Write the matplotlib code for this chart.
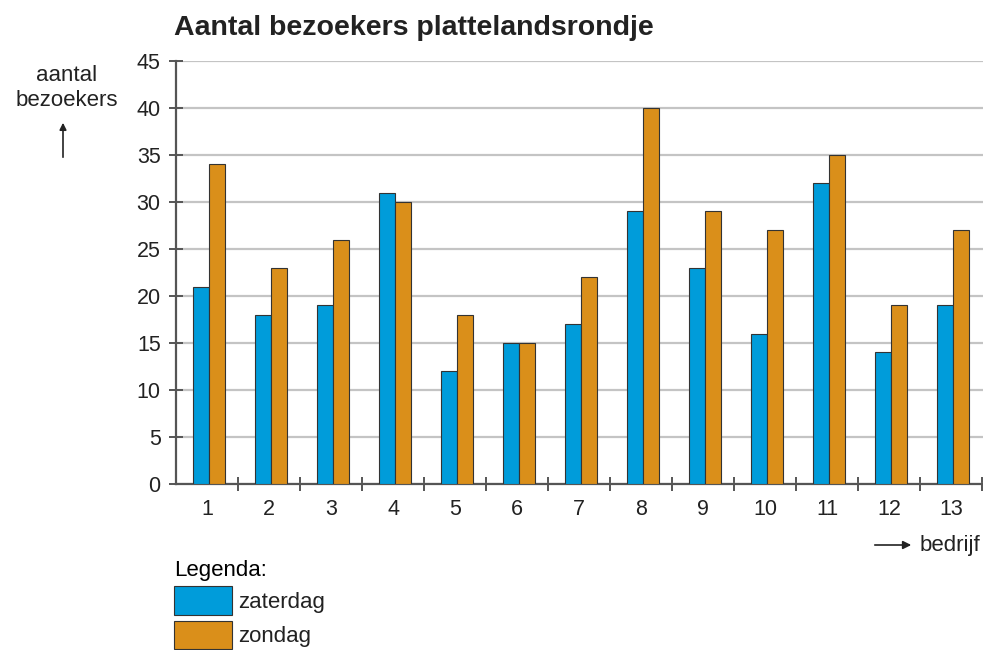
import matplotlib.pyplot as plt
import numpy as np

plt.rcParams['font.family'] = ['Liberation Sans', 'DejaVu Sans']

bedrijven = [str(i) for i in range(1, 14)]
zaterdag = [21, 18, 19, 31, 12, 15, 17, 29, 23, 16, 32, 14, 19]
zondag = [34, 23, 26, 30, 18, 15, 22, 40, 29, 27, 35, 19, 27]
yticks = list(range(0, 50, 5))

BLUE = '#009cda'
ORANGE = '#da8f1a'
EDGE = '#333333'
TXT = '#222222'
W, H = 983, 650


def fx(px):
    return px / W


def fy(py):
    return 1 - py / H


fig = plt.figure(figsize=(9.83, 6.5), dpi=100)
ax = fig.add_axes([fx(176), fy(484), 1 - fx(176), fy(61) - fy(484)])

x = np.arange(1, len(bedrijven) + 1)
bw = 0.255
b1 = ax.bar(x - bw / 2 + 0.03, zaterdag, bw, color=BLUE, edgecolor=EDGE, linewidth=0.8,
            label='zaterdag', zorder=3)
b2 = ax.bar(x + bw / 2 + 0.03, zondag, bw, color=ORANGE, edgecolor=EDGE, linewidth=0.8,
            label='zondag', zorder=3)

ax.set_ylim(0, 45)
ax.set_xlim(0.5, 0.5 + (W - 176) / 62)
ax.set_yticks(yticks)
ax.set_xticks(x)
ax.set_xticklabels(bedrijven)
ax.set_xticks(x + 0.5, minor=True)

ax.grid(axis='y', color='#c4c4c4', linewidth=1.6, zorder=0)
for s in ['top', 'right']:
    ax.spines[s].set_visible(False)
for s in ['left', 'bottom']:
    ax.spines[s].set_color('#555555')
    ax.spines[s].set_linewidth(1.6)

ax.tick_params(axis='y', direction='inout', length=10, width=1.4, color='#555555',
               labelsize=15.5, pad=6, labelcolor=TXT)
ax.tick_params(axis='x', which='major', length=0, labelsize=15.5, pad=11, labelcolor=TXT)
ax.tick_params(axis='x', which='minor', direction='inout', length=10, width=1.4,
               color='#555555')

fig.text(fx(174), fy(28), 'Aantal bezoekers plattelandsrondje', fontsize=20.5,
         fontweight='bold', color=TXT, va='center', ha='left')

fig.text(fx(67), fy(88), 'aantal\nbezoekers', fontsize=16, color=TXT,
         ha='center', va='center', linespacing=1.2)
ax.annotate('', xy=(fx(63), fy(120)), xytext=(fx(63), fy(160)), xycoords='figure fraction',
            arrowprops=dict(arrowstyle='-|>', color=TXT, lw=1.2, mutation_scale=10))

ax.annotate('', xy=(fx(914), fy(545)), xytext=(fx(872), fy(545)), xycoords='figure fraction',
            arrowprops=dict(arrowstyle='-|>', color=TXT, lw=1.2, mutation_scale=12))
fig.text(fx(920), fy(545), 'bedrijf', fontsize=16, color=TXT, ha='left', va='center')

fig.legend(handles=[b1, b2], loc='upper left', bbox_to_anchor=(fx(165), fy(551)),
           title='Legenda:', alignment='left', frameon=False, fontsize=16,
           title_fontsize=16, handlelength=2.6, handleheight=1.6, labelspacing=0.25,
           handletextpad=0.3, borderaxespad=0, labelcolor=TXT)

fig.savefig('out.png', dpi=100)
